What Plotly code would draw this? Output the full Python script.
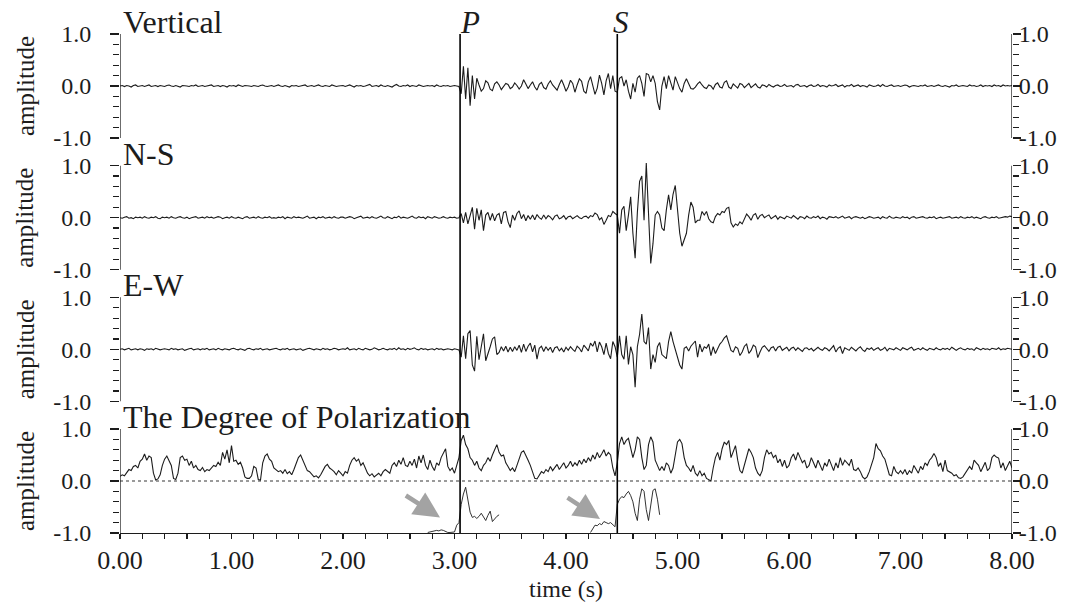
import plotly.graph_objects as go

# ---------------- data ----------------
DT = 0.02
time = [round(i * DT, 2) for i in range(401)]

vertical = [
    0.00, 0.01, -0.01, 0.01, 0.00, -0.02, 0.01, 0.02, -0.01, 0.00,   # 0.0
    0.01, -0.01, 0.00, 0.02, -0.01, 0.00, 0.01, -0.01, 0.01, 0.00,   # 0.2
    -0.01, 0.01, 0.02, 0.00, -0.01, 0.01, 0.00, -0.02, 0.01, 0.01,   # 0.4
    0.00, -0.01, 0.01, 0.00, 0.02, -0.01, 0.00, 0.01, -0.01, 0.00,   # 0.6
    0.01, 0.02, -0.01, 0.00, 0.01, -0.01, 0.01, 0.00, -0.02, 0.01,   # 0.8
    0.00, 0.01, -0.01, 0.02, 0.00, -0.01, 0.01, 0.01, 0.00, -0.01,   # 1.0
    0.01, 0.00, -0.01, 0.01, 0.02, 0.00, -0.01, 0.00, 0.01, -0.01,   # 1.2
    0.00, 0.02, 0.00, -0.01, 0.01, 0.00, -0.02, 0.01, 0.00, 0.01,   # 1.4
    -0.01, 0.00, 0.01, 0.02, -0.01, 0.00, 0.01, -0.01, 0.00, 0.02,   # 1.6
    0.00, -0.01, 0.01, 0.00, -0.01, 0.02, 0.01, -0.01, 0.00, 0.01,   # 1.8
    0.01, -0.01, 0.00, 0.02, 0.00, -0.02, 0.01, 0.00, 0.01, -0.01,   # 2.0
    0.00, 0.01, 0.03, -0.01, 0.00, 0.01, -0.01, 0.02, 0.00, -0.01,   # 2.2
    0.01, 0.00, -0.02, 0.01, 0.03, 0.00, -0.01, 0.01, 0.00, 0.02,   # 2.4
    -0.01, 0.01, 0.00, -0.01, 0.02, 0.01, -0.01, 0.00, 0.01, 0.00,   # 2.6
    0.01, -0.01, 0.02, 0.00, -0.01, 0.01, 0.00, 0.01, -0.01, 0.00,   # 2.8
    0.01, 0.00, -0.01, -0.15, 0.38, -0.25, 0.35, -0.38, 0.20, -0.25,   # 3.0
    0.15, 0.02, -0.10, -0.05, 0.10, 0.06, -0.06, -0.09, 0.04, 0.08,   # 3.2
    0.02, -0.07, -0.02, 0.05, 0.03, -0.05, -0.02, 0.06, 0.01, -0.06,   # 3.4
    0.00, 0.12, 0.04, -0.05, 0.02, 0.08, -0.02, -0.08, 0.03, 0.07,   # 3.6
    -0.03, -0.06, 0.04, 0.10, 0.02, -0.04, -0.08, 0.03, 0.12, 0.02,   # 3.8
    -0.10, -0.02, 0.11, 0.05, -0.12, 0.02, 0.14, 0.09, -0.10, -0.14,   # 4.0
    0.08, 0.18, 0.02, -0.16, -0.04, 0.21, 0.05, -0.17, 0.10, 0.24,   # 4.2
    -0.05, 0.20, -0.10, -0.12, 0.15, 0.18, 0.00, 0.12, -0.10, -0.25,   # 4.4
    0.05, -0.12, 0.15, 0.20, 0.05, -0.20, 0.24, 0.22, 0.08, 0.20,   # 4.6
    0.05, -0.30, -0.46, 0.00, 0.18, -0.05, 0.20, 0.05, -0.08, 0.18,   # 4.8
    0.05, -0.05, -0.12, 0.05, 0.14, 0.06, -0.05, -0.06, -0.02, 0.04,   # 5.0
    0.08, 0.02, -0.03, -0.05, 0.02, 0.00, -0.06, 0.03, 0.06, -0.02,   # 5.2
    -0.04, 0.07, 0.10, -0.02, -0.05, 0.04, 0.00, -0.04, 0.05, 0.03,   # 5.4
    -0.03, 0.02, 0.05, -0.03, 0.00, 0.04, -0.02, -0.04, 0.02, 0.01,   # 5.6
    -0.02, 0.03, 0.00, -0.02, 0.01, 0.02, -0.01, 0.00, 0.03, -0.01,   # 5.8
    0.00, 0.01, -0.02, 0.02, 0.03, -0.01, 0.00, 0.01, -0.02, 0.01,   # 6.0
    0.02, -0.01, 0.00, 0.03, -0.01, 0.01, 0.00, -0.02, 0.02, 0.00,   # 6.2
    0.01, 0.03, -0.01, 0.00, 0.02, -0.02, 0.01, 0.00, 0.03, -0.01,   # 6.4
    0.00, 0.02, -0.01, 0.01, 0.00, -0.02, 0.02, 0.01, -0.01, 0.00,   # 6.6
    0.02, -0.01, 0.03, 0.00, -0.01, 0.01, 0.02, -0.01, 0.00, 0.01,   # 6.8
    -0.01, 0.00, 0.02, 0.01, -0.02, 0.00, 0.01, 0.00, -0.01, 0.01,   # 7.0
    0.00, 0.02, -0.01, 0.00, 0.01, -0.01, 0.00, 0.02, 0.00, -0.01,   # 7.2
    0.01, 0.00, -0.02, 0.01, 0.00, 0.02, -0.01, 0.00, 0.01, 0.00,   # 7.4
    -0.01, 0.02, 0.00, 0.01, -0.01, 0.00, 0.02, -0.01, 0.01, 0.00,   # 7.6
    0.01, -0.01, 0.02, 0.00, 0.01, -0.01, 0.02, 0.00, 0.01, 0.00,   # 7.8
    0.01,
]

north_south = [
    0.00, -0.01, 0.01, 0.02, -0.01, 0.00, -0.02, 0.01, 0.00, 0.01,   # 0.0
    -0.01, 0.02, 0.00, -0.01, 0.01, 0.00, 0.02, -0.01, -0.02, 0.01,   # 0.2
    0.00, 0.01, -0.01, 0.02, 0.00, -0.01, 0.01, 0.02, 0.00, -0.01,   # 0.4
    0.01, -0.02, 0.00, 0.01, 0.02, -0.01, 0.00, 0.01, -0.01, 0.02,   # 0.6
    0.00, 0.01, -0.01, 0.00, 0.02, 0.01, -0.02, 0.00, 0.01, -0.01,   # 0.8
    0.02, 0.00, -0.01, 0.01, 0.00, -0.02, 0.01, 0.02, -0.01, 0.00,   # 1.0
    0.01, -0.01, 0.02, 0.00, -0.01, 0.01, 0.00, 0.02, -0.01, 0.00,   # 1.2
    -0.01, 0.01, 0.00, 0.02, -0.02, 0.01, 0.00, -0.01, 0.02, 0.00,   # 1.4
    0.01, 0.00, -0.01, 0.01, 0.03, -0.01, 0.00, 0.01, -0.02, 0.01,   # 1.6
    0.00, 0.02, -0.01, 0.00, 0.01, -0.01, 0.02, 0.00, -0.01, 0.01,   # 1.8
    0.01, -0.01, 0.00, 0.02, 0.01, -0.02, 0.00, 0.01, 0.03, -0.01,   # 2.0
    0.00, 0.01, -0.01, 0.02, 0.00, -0.01, 0.01, 0.03, 0.00, -0.01,   # 2.2
    0.02, 0.00, -0.02, 0.01, 0.00, 0.03, -0.01, 0.01, 0.00, -0.01,   # 2.4
    0.01, 0.03, 0.00, -0.01, 0.02, 0.00, 0.01, -0.02, 0.02, 0.00,   # 2.6
    -0.01, 0.02, 0.01, -0.01, 0.00, 0.02, 0.00, -0.01, 0.01, 0.00,   # 2.8
    0.01, -0.01, 0.00, 0.08, -0.10, 0.10, -0.12, 0.05, 0.20, -0.22,   # 3.0
    0.18, -0.05, 0.15, -0.25, 0.05, 0.10, -0.05, 0.08, -0.06, 0.05,   # 3.2
    0.08, -0.12, 0.10, 0.12, -0.08, -0.19, 0.05, -0.05, 0.08, 0.13,   # 3.4
    -0.02, 0.06, -0.06, 0.04, -0.03, 0.05, -0.04, 0.06, 0.00, -0.03,   # 3.6
    0.05, -0.02, 0.04, 0.01, -0.04, 0.03, 0.05, -0.02, 0.00, 0.04,   # 3.8
    -0.03, 0.02, 0.03, -0.02, 0.01, 0.04, 0.00, -0.02, 0.02, 0.03,   # 4.0
    -0.01, 0.04, 0.02, 0.09, 0.06, -0.04, 0.00, -0.13, -0.05, 0.04,   # 4.2
    0.02, 0.12, 0.08, 0.05, -0.30, 0.15, 0.22, -0.25, 0.05, 0.40,   # 4.4
    -0.30, -0.78, 0.10, 0.70, 0.80, -0.05, 1.05, 0.10, -0.88, -0.50,   # 4.6
    0.05, 0.12, 0.05, -0.20, -0.25, 0.15, 0.44, 0.15, 0.45, 0.62,   # 4.8
    0.20, -0.30, -0.55, -0.40, -0.30, 0.05, 0.30, 0.20, -0.10, -0.05,   # 5.0
    -0.05, 0.12, 0.05, 0.12, -0.02, -0.08, -0.10, 0.02, 0.08, 0.05,   # 5.2
    0.12, 0.10, 0.18, 0.20, -0.10, -0.18, -0.12, -0.15, -0.08, -0.12,   # 5.4
    -0.02, 0.07, 0.02, -0.05, 0.05, 0.08, -0.03, 0.04, 0.06, 0.00,   # 5.6
    0.03, 0.05, -0.02, 0.01, 0.04, -0.03, 0.02, 0.00, -0.02, 0.03,   # 5.8
    0.01, -0.01, 0.04, 0.00, -0.03, 0.02, 0.01, -0.02, 0.03, 0.00,   # 6.0
    -0.01, 0.02, 0.00, 0.03, -0.02, 0.01, 0.00, -0.03, 0.02, 0.01,   # 6.2
    0.00, 0.02, -0.01, 0.01, 0.03, -0.01, 0.00, 0.02, -0.02, 0.01,   # 6.4
    0.02, 0.00, -0.01, 0.01, -0.02, 0.00, 0.02, 0.01, -0.01, 0.00,   # 6.6
    0.01, -0.02, 0.02, 0.00, -0.01, 0.03, 0.00, -0.01, 0.01, 0.00,   # 6.8
    -0.01, 0.02, 0.00, 0.01, -0.02, 0.01, 0.02, -0.01, 0.00, 0.01,   # 7.0
    0.02, 0.00, -0.01, 0.01, 0.00, 0.02, -0.02, 0.00, 0.01, -0.01,   # 7.2
    0.00, 0.01, 0.02, -0.01, 0.00, 0.01, -0.01, 0.02, 0.00, -0.01,   # 7.4
    0.01, 0.00, 0.02, -0.01, 0.01, 0.00, -0.02, 0.01, 0.02, 0.00,   # 7.6
    -0.01, 0.01, 0.00, 0.02, -0.01, 0.00, 0.01, 0.02, 0.01, 0.03,   # 7.8
    0.02,
]

east_west = [
    0.00, 0.01, -0.01, 0.00, 0.02, -0.01, 0.00, 0.01, -0.01, 0.01,   # 0.0
    0.00, -0.02, 0.01, 0.00, 0.01, -0.01, 0.02, 0.00, -0.01, 0.00,   # 0.2
    0.01, 0.00, -0.01, 0.02, 0.00, 0.01, -0.01, 0.00, 0.01, -0.02,   # 0.4
    0.00, 0.01, 0.02, -0.01, 0.00, 0.01, -0.01, 0.01, 0.00, 0.02,   # 0.6
    -0.01, 0.00, 0.01, -0.01, 0.02, 0.00, -0.01, 0.01, 0.00, -0.01,   # 0.8
    0.01, 0.02, 0.00, -0.01, 0.01, 0.00, -0.02, 0.01, 0.02, 0.00,   # 1.0
    -0.01, 0.01, 0.00, 0.02, -0.01, 0.00, 0.01, -0.01, 0.00, 0.01,   # 1.2
    0.02, 0.00, -0.01, 0.01, 0.00, 0.02, -0.01, 0.00, 0.01, -0.01,   # 1.4
    0.00, 0.01, -0.02, 0.00, 0.01, 0.02, 0.00, -0.01, 0.01, 0.00,   # 1.6
    -0.01, 0.02, 0.00, 0.01, -0.01, 0.00, 0.02, 0.01, -0.01, 0.00,   # 1.8
    0.01, 0.00, 0.03, -0.01, 0.00, 0.01, -0.01, 0.02, 0.00, -0.01,   # 2.0
    0.02, 0.01, -0.01, 0.00, 0.03, 0.01, -0.01, 0.00, 0.02, 0.00,   # 2.2
    -0.01, 0.01, 0.00, 0.02, -0.01, 0.03, 0.00, 0.01, -0.01, 0.02,   # 2.4
    0.00, 0.01, 0.03, 0.00, -0.01, 0.02, 0.00, 0.01, -0.01, 0.00,   # 2.6
    0.01, -0.01, 0.02, 0.00, 0.01, -0.01, 0.00, 0.01, 0.00, -0.01,   # 2.8
    0.01, 0.00, -0.01, -0.15, 0.26, -0.18, 0.30, 0.36, -0.30, -0.42,   # 3.0
    0.25, -0.20, 0.10, 0.30, -0.22, -0.10, 0.05, 0.20, 0.24, -0.10,   # 3.2
    -0.06, 0.05, -0.03, 0.06, -0.05, 0.04, -0.04, 0.05, -0.02, 0.08,   # 3.4
    -0.06, 0.10, -0.04, 0.06, 0.12, -0.05, 0.08, -0.19, 0.02, 0.06,   # 3.6
    -0.04, 0.05, -0.02, 0.04, -0.06, 0.03, 0.05, -0.03, 0.02, -0.05,   # 3.8
    0.04, -0.02, 0.05, 0.00, -0.04, 0.06, 0.02, -0.05, 0.08, 0.03,   # 4.0
    -0.03, 0.12, 0.06, 0.16, -0.05, 0.14, 0.05, -0.10, 0.12, -0.08,   # 4.2
    -0.18, 0.15, 0.05, -0.15, 0.26, -0.10, -0.19, 0.26, -0.29, 0.05,   # 4.4
    -0.10, -0.73, 0.05, 0.29, 0.68, 0.15, 0.10, 0.42, -0.38, -0.10,   # 4.6
    -0.25, 0.05, 0.13, -0.10, -0.15, -0.18, 0.15, 0.34, 0.15, 0.00,   # 4.8
    -0.10, -0.30, -0.38, 0.02, 0.05, -0.03, 0.06, 0.12, 0.16, -0.15,   # 5.0
    0.10, -0.05, 0.05, 0.02, 0.10, -0.12, 0.05, -0.08, 0.02, 0.10,   # 5.2
    0.15, 0.22, 0.26, 0.10, -0.02, -0.05, 0.05, 0.02, -0.12, -0.05,   # 5.4
    0.06, 0.10, -0.08, -0.02, 0.08, 0.05, -0.16, -0.05, 0.04, 0.07,   # 5.6
    0.02, -0.04, 0.03, 0.05, -0.03, 0.04, 0.06, -0.02, 0.01, 0.04,   # 5.8
    -0.03, 0.02, 0.04, -0.02, 0.03, 0.00, -0.04, 0.02, 0.03, -0.01,   # 6.0
    0.02, -0.03, 0.01, 0.04, 0.00, -0.02, 0.03, 0.01, -0.03, 0.02,   # 6.2
    0.07, -0.05, 0.02, 0.05, -0.08, 0.03, 0.01, -0.02, 0.04, 0.00,   # 6.4
    -0.03, 0.02, 0.05, -0.01, -0.04, 0.02, 0.00, 0.03, -0.02, 0.01,   # 6.6
    0.03, -0.02, 0.00, 0.04, -0.03, 0.02, 0.01, -0.01, 0.03, 0.00,   # 6.8
    -0.02, 0.03, 0.01, -0.01, 0.02, 0.04, -0.02, 0.00, 0.02, -0.01,   # 7.0
    0.03, 0.00, -0.02, 0.02, 0.01, -0.01, 0.03, 0.00, -0.01, 0.02,   # 7.2
    0.00, 0.02, -0.01, 0.04, 0.01, -0.02, 0.01, 0.03, 0.00, -0.01,   # 7.4
    0.02, 0.00, 0.01, -0.02, 0.03, 0.01, -0.01, 0.02, 0.00, 0.01,   # 7.6
    -0.01, 0.02, 0.01, 0.00, 0.03, -0.01, 0.01, 0.00, 0.02, 0.01,   # 7.8
    0.00,
]

polarization = [
    0.09, 0.12, 0.10, 0.17, 0.22, 0.20, 0.28, 0.30, 0.25, 0.38,   # 0.0
    0.42, 0.52, 0.40, 0.48, 0.45, 0.15, 0.02, 0.04, 0.12, 0.30,   # 0.2
    0.42, 0.48, 0.40, 0.30, 0.05, 0.03, 0.15, 0.45, 0.48, 0.40,   # 0.4
    0.42, 0.30, 0.38, 0.25, 0.30, 0.22, 0.20, 0.26, 0.18, 0.22,   # 0.6
    0.20, 0.25, 0.30, 0.28, 0.36, 0.30, 0.55, 0.42, 0.60, 0.35,   # 0.8
    0.68, 0.38, 0.40, 0.32, 0.36, 0.25, 0.08, 0.05, 0.05, 0.10,   # 1.0
    0.28, 0.25, 0.03, 0.02, 0.35, 0.48, 0.52, 0.42, 0.38, 0.25,   # 1.2
    0.22, 0.18, 0.20, 0.15, 0.22, 0.14, 0.18, 0.12, 0.22, 0.32,   # 1.4
    0.45, 0.50, 0.40, 0.30, 0.20, 0.18, 0.12, 0.08, 0.10, 0.06,   # 1.6
    0.12, 0.20, 0.28, 0.32, 0.25, 0.22, 0.18, 0.12, 0.20, 0.15,   # 1.8
    0.10, 0.18, 0.15, 0.30, 0.40, 0.45, 0.38, 0.42, 0.30, 0.35,   # 2.0
    0.25, 0.15, 0.10, 0.14, 0.08, 0.12, 0.15, 0.10, 0.18, 0.22,   # 2.2
    0.18, 0.15, 0.30, 0.35, 0.28, 0.40, 0.32, 0.45, 0.30, 0.28,   # 2.4
    0.38, 0.30, 0.42, 0.25, 0.48, 0.35, 0.50, 0.30, 0.22, 0.40,   # 2.6
    0.28, 0.20, 0.35, 0.30, 0.45, 0.55, 0.62, 0.28, 0.20, 0.25,   # 2.8
    0.15, 0.30, 0.45, 0.78, 0.88, 0.70, 0.62, 0.45, 0.40, 0.30,   # 3.0
    0.38, 0.25, 0.20, 0.30, 0.35, 0.45, 0.38, 0.50, 0.62, 0.70,   # 3.2
    0.55, 0.48, 0.50, 0.35, 0.28, 0.20, 0.25, 0.18, 0.30, 0.45,   # 3.4
    0.55, 0.58, 0.50, 0.40, 0.30, 0.15, 0.05, 0.04, 0.10, 0.18,   # 3.6
    0.15, 0.22, 0.18, 0.28, 0.20, 0.25, 0.32, 0.22, 0.28, 0.35,   # 3.8
    0.25, 0.30, 0.38, 0.28, 0.35, 0.30, 0.40, 0.32, 0.42, 0.35,   # 4.0
    0.45, 0.38, 0.50, 0.42, 0.55, 0.45, 0.52, 0.60, 0.48, 0.55,   # 4.2
    0.50, 0.25, 0.10, 0.35, 0.72, 0.85, 0.70, 0.78, 0.82, 0.65,   # 4.4
    0.45, 0.60, 0.85, 0.80, 0.45, 0.22, 0.30, 0.70, 0.85, 0.75,   # 4.6
    0.40, 0.30, 0.20, 0.28, 0.20, 0.35, 0.30, 0.15, 0.25, 0.50,   # 4.8
    0.75, 0.80, 0.72, 0.45, 0.30, 0.25, 0.18, 0.30, 0.15, 0.10,   # 5.0
    0.20, 0.10, 0.15, 0.05, 0.02, 0.00, 0.25, 0.45, 0.55, 0.40,   # 5.2
    0.62, 0.75, 0.70, 0.78, 0.45, 0.55, 0.68, 0.40, 0.20, 0.15,   # 5.4
    0.30, 0.50, 0.62, 0.55, 0.45, 0.25, 0.15, 0.10, 0.20, 0.45,   # 5.6
    0.60, 0.52, 0.55, 0.45, 0.50, 0.35, 0.42, 0.28, 0.40, 0.25,   # 5.8
    0.30, 0.45, 0.52, 0.40, 0.55, 0.45, 0.35, 0.40, 0.25, 0.30,   # 6.0
    0.45, 0.35, 0.25, 0.40, 0.30, 0.20, 0.35, 0.28, 0.42, 0.30,   # 6.2
    0.20, 0.35, 0.25, 0.45, 0.30, 0.40, 0.35, 0.30, 0.42, 0.22,   # 6.4
    0.20, 0.25, 0.18, 0.08, 0.04, 0.08, 0.18, 0.32, 0.45, 0.72,   # 6.6
    0.62, 0.58, 0.48, 0.42, 0.25, 0.12, 0.10, 0.28, 0.18, 0.14,   # 6.8
    0.20, 0.14, 0.22, 0.12, 0.20, 0.15, 0.30, 0.22, 0.15, 0.28,   # 7.0
    0.22, 0.35, 0.30, 0.40, 0.45, 0.53, 0.45, 0.28, 0.35, 0.18,   # 7.2
    0.40, 0.20, 0.18, 0.15, 0.10, 0.12, 0.06, 0.05, 0.08, 0.15,   # 7.4
    0.20, 0.28, 0.22, 0.40, 0.35, 0.30, 0.18, 0.28, 0.36, 0.20,   # 7.6
    0.25, 0.45, 0.50, 0.46, 0.44, 0.25, 0.35, 0.20, 0.30, 0.38,   # 7.8
    0.25,
]

# short auxiliary polarization segments drawn in the negative half (start time, values)
aux_p_start = 2.76
aux_p = [-0.99, -0.98, -0.97, -0.96, -0.95, -0.96, -0.94, -0.95, -0.97, -0.99,
         -0.99, -0.99, -0.98, -0.85, -0.80, -0.45, -0.25, -0.12, -0.35, -0.60,
         -0.70, -0.68, -0.72, -0.68, -0.62, -0.70, -0.76, -0.66, -0.58, -0.78,
         -0.72, -0.68, -0.65]
aux_s_start = 4.22
aux_s = [-0.99, -0.92, -0.85, -0.86, -0.82, -0.84, -0.78, -0.80, -0.82, -0.80,
         -0.85, -0.88, -0.45, -0.35, -0.30, -0.32, -0.25, -0.20, -0.28, -0.40,
         -0.62, -0.76, -0.35, -0.15, -0.20, -0.55, -0.76, -0.45, -0.18, -0.15,
         -0.35, -0.65]

p_time = 3.05
s_time = 4.46
phase_labels = ["P", "S"]
panel_titles = ["Vertical", "N-S", "E-W", "The Degree of Polarization"]
y_tick_vals = [-1.0, 0.0, 1.0]
y_tick_text = ["-1.0", "0.0", "1.0"]
x_tick_vals = [0, 1, 2, 3, 4, 5, 6, 7, 8]
x_tick_text = ["0.00", "1.00", "2.00", "3.00", "4.00", "5.00", "6.00", "7.00", "8.00"]

series = [vertical, north_south, east_west, polarization]
for s in series:
    assert len(s) == len(time), len(s)

aux_p_time = [round(aux_p_start + i * DT, 2) for i in range(len(aux_p))]
aux_s_time = [round(aux_s_start + i * DT, 2) for i in range(len(aux_s))]

# ---------------- geometry / style ----------------
W, H = 1072, 605
PLOT_LEFT, PLOT_RIGHT = 120, 1012
PLOT_TOP, PLOT_BOTTOM = 27, 533
ML, MR = PLOT_LEFT, W - PLOT_RIGHT
MT, MB = PLOT_TOP, H - PLOT_BOTTOM
PLOT_W = PLOT_RIGHT - PLOT_LEFT
PLOT_H = PLOT_BOTTOM - PLOT_TOP
UNIT = 52.0                       # px per amplitude unit
ZERO_PX = [86.0, 217.67, 349.33, 481.0]
HEAD = 1.12
FONT = "Liberation Serif, Tinos, Times New Roman, serif"
INK = "#1c1c1c"


def py(px):
    return (PLOT_BOTTOM - px) / PLOT_H


def pxx(px):
    return (px - PLOT_LEFT) / PLOT_W


fig = go.Figure()
yname = ["y", "y2", "y3", "y4"]
rname = ["y5", "y6", "y7", "y8"]
minor_y = [-0.8, -0.6, -0.4, -0.2, 0.2, 0.4, 0.6, 0.8]

layout_axes = {}
for k in range(4):
    lo = -HEAD if k < 3 else -1.0
    top_px = ZERO_PX[k] - HEAD * UNIT
    bot_px = ZERO_PX[k] - lo * UNIT
    dom = [max(0.0, py(bot_px)), min(1.0, py(top_px))]
    common = dict(range=[lo, HEAD], tickmode="array", tickvals=y_tick_vals, ticktext=y_tick_text,
                  ticks="outside", tickcolor=INK, tickwidth=1.2, automargin=False,
                  showline=False, showgrid=False, zeroline=False, fixedrange=True,
                  tickfont=dict(family=FONT, size=24, color=INK))
    left = dict(common, domain=dom, anchor="x", side="left", ticklen=9, ticklabelstandoff=14,
                minor=dict(tickmode="array", tickvals=minor_y, ticks="outside", ticklen=6,
                           tickcolor=INK, tickwidth=1.2, showgrid=False))
    right = dict(common, overlaying=yname[k], anchor="x", side="right", ticklen=8, ticklabelstandoff=-7,
                 minor=dict(tickmode="array", tickvals=minor_y, ticks="outside", ticklen=6,
                            tickcolor=INK, tickwidth=1.2, showgrid=False))
    layout_axes["yaxis" if k == 0 else f"yaxis{k+1}"] = left
    layout_axes[f"yaxis{k+5}"] = right

    fig.add_trace(go.Scatter(x=time, y=series[k], xaxis="x", yaxis=yname[k], mode="lines",
                             line=dict(color=INK, width=1.1), hoverinfo="skip", showlegend=False))
    fig.add_trace(go.Scatter(x=[None], y=[None], xaxis="x", yaxis=rname[k], mode="lines",
                             hoverinfo="skip", showlegend=False))

fig.add_trace(go.Scatter(x=aux_p_time, y=aux_p, xaxis="x", yaxis="y4", mode="lines",
                         line=dict(color=INK, width=0.9), hoverinfo="skip", showlegend=False))
fig.add_trace(go.Scatter(x=aux_s_time, y=aux_s, xaxis="x", yaxis="y4", mode="lines",
                         line=dict(color=INK, width=0.9), hoverinfo="skip", showlegend=False))

minor_x = [round(0.2 * i, 1) for i in range(41) if i % 5]
layout_axes["xaxis"] = dict(domain=[0, 1], range=[0, 8], anchor="y4", tickmode="array",
                            tickvals=x_tick_vals, ticktext=x_tick_text, ticks="outside", ticklen=5,
                            tickwidth=1.2, tickcolor=INK, showline=True, linecolor=INK, linewidth=1.3,
                            showgrid=False, zeroline=False, fixedrange=True, ticklabelstandoff=-2,
                            automargin=False,
                            tickfont=dict(family=FONT, size=26, color=INK),
                            minor=dict(tickmode="array", tickvals=minor_x, ticks="outside", ticklen=5,
                                       tickcolor=INK, tickwidth=1.2, showgrid=False))

shapes = []
for k in range(4):
    for xv in (0, 8):
        shapes.append(dict(type="line", xref="x", yref=yname[k], x0=xv, x1=xv, y0=-1, y1=1,
                           line=dict(color=INK, width=1.3)))
shapes.append(dict(type="line", xref="x", yref="y4", x0=0, x1=8, y0=0, y1=0, layer="below",
                   line=dict(color="#7a7a7a", width=1.6, dash="dot")))
for tv in (p_time, s_time):
    shapes.append(dict(type="line", xref="x", yref="paper", x0=tv, x1=tv,
                       y0=py(ZERO_PX[3] + UNIT), y1=py(ZERO_PX[0] - UNIT),
                       line=dict(color="#000", width=1.6)))

ann = []
for k in range(4):
    ann.append(dict(text=panel_titles[k], xref="paper", yref="paper", x=pxx(121), y=py(ZERO_PX[k] - UNIT),
                    xanchor="left", yanchor="bottom", yshift=-8, showarrow=False,
                    font=dict(family=FONT, size=32, color=INK)))
    ann.append(dict(text="amplitude", xref="paper", yref="paper", x=pxx(25), y=py(ZERO_PX[k]),
                    xanchor="center", yanchor="middle", textangle=-90, showarrow=False,
                    font=dict(family=FONT, size=25, color=INK)))
ann.append(dict(text="<i>%s</i>" % phase_labels[0], xref="x", yref="paper", x=p_time,
                y=py(ZERO_PX[0] - UNIT), xanchor="left", yanchor="bottom", yshift=-8, xshift=-2,
                showarrow=False, font=dict(family=FONT, size=31, color=INK)))
ann.append(dict(text="<i>%s</i>" % phase_labels[1], xref="x", yref="paper", x=s_time,
                y=py(ZERO_PX[0] - UNIT), xanchor="center", yanchor="bottom", yshift=-8, xshift=4,
                showarrow=False, font=dict(family=FONT, size=31, color=INK)))
ann.append(dict(text="time (s)", xref="paper", yref="paper", x=0.5, y=py(589),
                xanchor="center", yanchor="middle", showarrow=False,
                font=dict(family=FONT, size=24, color=INK)))
# grey pointer arrows
for (hx, hy, tx, ty) in [(2.87, -0.70, 2.55, -0.26), (4.305, -0.73, 4.0, -0.30)]:
    ann.append(dict(text="", x=hx, y=hy, xref="x", yref="y4", ax=tx, ay=ty, axref="x", ayref="y4",
                    showarrow=True, arrowhead=2, arrowsize=1.15, arrowwidth=4.5, arrowcolor="#a3a3a3"))

fig.update_layout(template="none", width=W, height=H, autosize=False,
                  font=dict(family=FONT, color=INK),
                  margin=dict(l=ML, r=MR, t=MT, b=MB, pad=0, autoexpand=False),
                  paper_bgcolor="white", plot_bgcolor="white",
                  shapes=shapes, annotations=ann, showlegend=False, **layout_axes)

# remove the page's default 8px body margin so the figure fills the window exactly
fig.write_html("out.html",
               config={"displayModeBar": False, "staticPlot": True},
               post_script="document.body.style.margin='0px';document.body.style.overflow='hidden';")
